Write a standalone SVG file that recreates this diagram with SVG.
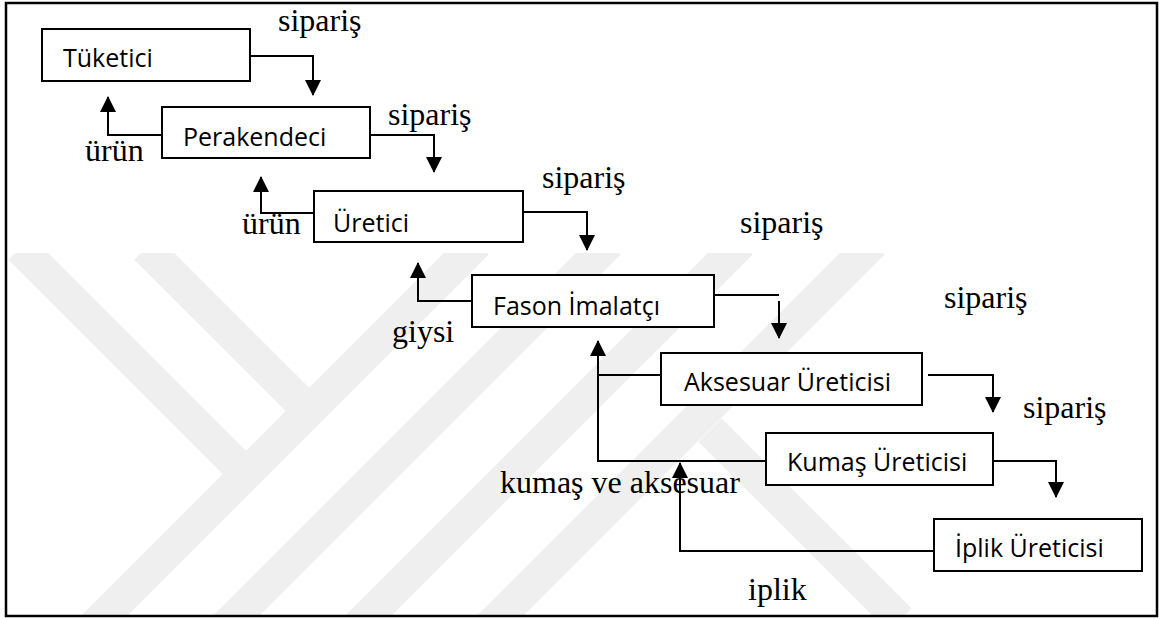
<svg xmlns="http://www.w3.org/2000/svg" width="1160" height="619" viewBox="0 0 1160 619">
  <style>
    .box { fill: #ffffff; stroke: #000000; stroke-width: 2; }
    .node-label { font-family: "Open Sans", "Noto Sans", "Liberation Sans", sans-serif; font-size: 25px; fill: #000000; }
    .flow-label { font-family: "Liberation Serif", "Times New Roman", serif; font-size: 32px; fill: #000000; }
    .flow { fill: none; stroke: #000000; stroke-width: 2; }
    .arrow { marker-end: url(#head); }
    .mark { stroke: #efefef; stroke-width: 33; fill: none; stroke-linecap: butt; }
  </style>
  <defs>
    <marker id="head" markerUnits="userSpaceOnUse" markerWidth="16" markerHeight="16" refX="15" refY="8" orient="auto" viewBox="0 0 16 16">
      <path d="M0,0 L16,8 L0,16 Z" fill="#000000"/>
    </marker>
    <clipPath id="mark-area">
      <rect x="7" y="253" width="1149" height="362"/>
    </clipPath>
  </defs>

  <rect x="0" y="0" width="1160" height="619" fill="#ffffff"/>

  <!-- background emblem: diagonal bands -->
  <g id="emblem" clip-path="url(#mark-area)">
    <line class="mark" x1="20" y1="248" x2="246" y2="474"/>
    <line class="mark" x1="146" y1="248" x2="309" y2="411"/>
    <line class="mark" x1="90" y1="630" x2="477" y2="243"/>
    <line class="mark" x1="222" y1="630" x2="609" y2="243"/>
    <line class="mark" x1="354" y1="630" x2="741" y2="243"/>
    <line class="mark" x1="486" y1="630" x2="873" y2="243"/>
    <line class="mark" x1="710" y1="430" x2="900" y2="620"/>
  </g>

  <!-- frame -->
  <rect x="6" y="3" width="1151" height="613" fill="none" stroke="#000000" stroke-width="2.5"/>

  <!-- flow labels -->
  <g id="labels" class="flow-label">
    <text x="278" y="31">sipariş</text>
    <text x="388" y="125">sipariş</text>
    <text x="542" y="188">sipariş</text>
    <text x="740" y="233">sipariş</text>
    <text x="944" y="308">sipariş</text>
    <text x="1023" y="418">sipariş</text>
    <text x="85" y="161">ürün</text>
    <text x="242" y="234">ürün</text>
    <text x="392" y="342">giysi</text>
    <text x="500" y="493">kumaş ve aksesuar</text>
    <text x="748" y="600">iplik</text>
  </g>

  <!-- nodes -->
  <g id="tuketici">
    <rect class="box" x="42" y="29" width="208" height="52"/>
    <text class="node-label" x="63" y="67">Tüketici</text>
  </g>
  <g id="perakendeci">
    <rect class="box" x="162" y="107" width="208" height="51"/>
    <text class="node-label" x="183" y="146">Perakendeci</text>
  </g>
  <g id="uretici">
    <rect class="box" x="314" y="191" width="209" height="51"/>
    <text class="node-label" x="333" y="232">Üretici</text>
  </g>
  <g id="fason-imalatci">
    <rect class="box" x="472" y="275" width="242" height="52"/>
    <text class="node-label" x="493" y="315">Fason İmalatçı</text>
  </g>
  <g id="aksesuar-ureticisi">
    <rect class="box" x="661" y="353" width="261" height="52"/>
    <text class="node-label" x="684" y="391">Aksesuar Üreticisi</text>
  </g>
  <g id="kumas-ureticisi">
    <rect class="box" x="766" y="433" width="227" height="52"/>
    <text class="node-label" x="787" y="471">Kumaş Üreticisi</text>
  </g>
  <g id="iplik-ureticisi">
    <rect class="box" x="934" y="519" width="208" height="52"/>
    <text class="node-label" x="955" y="557">İplik Üreticisi</text>
  </g>

  <!-- connectors -->
  <g id="connectors" class="flow">
    <path class="arrow" d="M250,56 H313 V95"/>
    <path class="arrow" d="M162,135 H108 V97"/>
    <path class="arrow" d="M370,135 H434 V172"/>
    <path class="arrow" d="M314,213 H261 V177"/>
    <path class="arrow" d="M523,212 H587 V250"/>
    <path class="arrow" d="M472,301 H418 V263"/>
    <path d="M714,295 H779"/>
    <path class="arrow" d="M779,301 V338"/>
    <path d="M661,375 H598"/>
    <path class="arrow" d="M766,461 H598 V341"/>
    <path class="arrow" d="M928,375 H993 V412"/>
    <path class="arrow" d="M993,461 H1056 V497"/>
    <path class="arrow" d="M934,551 H680 V463"/>
  </g>
</svg>
